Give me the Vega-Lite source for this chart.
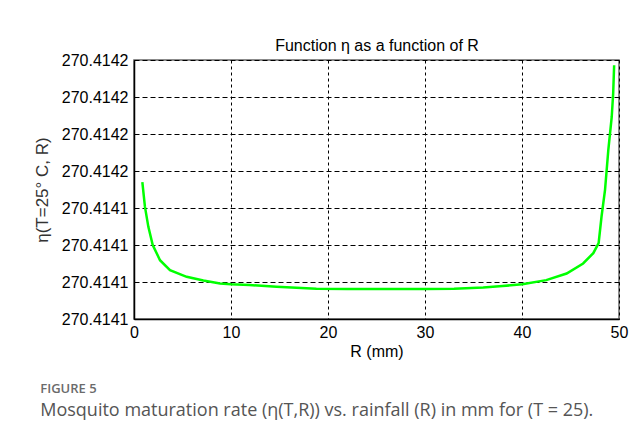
{
  "$schema": "https://vega.github.io/schema/vega-lite/v6.json",
  "width": 485,
  "height": 259,
  "autosize": {"type": "none"},
  "padding": {"left": 134, "top": 60, "right": 24, "bottom": 129},
  "background": "white",
  "title": {
    "text": "FIGURE 5",
    "subtitle": "Mosquito maturation rate (η(T,R)) vs. rainfall (R) in mm for (T = 25).",
    "orient": "bottom",
    "anchor": "start",
    "dx": 7,
    "offset": 24,
    "font": "Open Sans",
    "fontSize": 13,
    "fontWeight": 600,
    "color": "#6b6b6b",
    "subtitleFont": "Open Sans",
    "subtitleFontSize": 18,
    "subtitleColor": "#555555",
    "subtitlePadding": 6
  },
  "data": {
    "values": [
      {"R": 0.86, "eta": 270.414152},
      {"R": 1.13, "eta": 270.4141453},
      {"R": 1.48, "eta": 270.4141399},
      {"R": 1.93, "eta": 270.414135},
      {"R": 2.68, "eta": 270.4141309},
      {"R": 3.71, "eta": 270.4141282},
      {"R": 5.43, "eta": 270.4141264},
      {"R": 7.15, "eta": 270.4141254},
      {"R": 8.87, "eta": 270.4141246},
      {"R": 10.0, "eta": 270.4141244},
      {"R": 11.9, "eta": 270.4141242},
      {"R": 14.7, "eta": 270.4141237},
      {"R": 18.8, "eta": 270.4141232},
      {"R": 22.0, "eta": 270.4141231},
      {"R": 26.0, "eta": 270.4141231},
      {"R": 30.0, "eta": 270.4141231},
      {"R": 33.0, "eta": 270.4141232},
      {"R": 36.0, "eta": 270.4141235},
      {"R": 38.0, "eta": 270.4141239},
      {"R": 40.03, "eta": 270.4141244},
      {"R": 42.5, "eta": 270.4141255},
      {"R": 44.6, "eta": 270.4141273},
      {"R": 46.3, "eta": 270.41413},
      {"R": 47.35, "eta": 270.4141328},
      {"R": 47.9, "eta": 270.4141355},
      {"R": 48.2, "eta": 270.4141427},
      {"R": 48.56, "eta": 270.4141499},
      {"R": 48.9, "eta": 270.4141607},
      {"R": 49.25, "eta": 270.4141696},
      {"R": 49.4, "eta": 270.414176},
      {"R": 49.5, "eta": 270.4141836}
    ]
  },
  "layer": [
    {
      "mark": {"type": "line", "color": "#00ff00", "strokeWidth": 2.5},
      "encoding": {
        "x": {
          "field": "R",
          "type": "quantitative",
          "scale": {"domain": [0, 50], "nice": false, "zero": false},
          "axis": {
            "values": [0, 10, 20, 30, 40, 50],
            "title": "R (mm)",
            "titlePadding": 3,
            "labelPadding": 5,
            "ticks": false,
            "grid": true,
            "gridColor": "#000000",
            "gridDash": [3, 3],
            "gridOpacity": 1,
            "domainColor": "#000000",
            "labelFlush": false
          }
        },
        "y": {
          "field": "eta",
          "type": "quantitative",
          "scale": {"domain": [270.414115, 270.414185], "nice": false, "zero": false},
          "axis": {
            "values": [270.414115, 270.414125, 270.414135, 270.414145, 270.414155, 270.414165, 270.414175, 270.414185],
            "labelExpr": "datum.value < 270.41415 ? '270.4141' : '270.4142'",
            "title": "η(T=25° C, R)",
            "titleFontSize": 17,
            "titlePadding": 10,
            "titleColor": "#333333",
            "labelPadding": 6,
            "ticks": false,
            "grid": true,
            "gridColor": "#000000",
            "gridDash": [5, 3],
            "gridOpacity": 1,
            "domainColor": "#000000"
          }
        }
      }
    },
    {
      "mark": {"type": "line", "opacity": 0},
      "encoding": {
        "x": {
          "field": "R",
          "type": "quantitative",
          "scale": {"domain": [0, 50], "nice": false, "zero": false},
          "axis": {
            "orient": "top",
            "labels": false,
            "ticks": false,
            "domain": false,
            "grid": false,
            "title": "Function η as a function of R",
            "titlePadding": 7,
            "titleFontSize": 16,
            "titleColor": "#000000"
          }
        },
        "y": {"field": "eta", "type": "quantitative", "axis": null}
      }
    }
  ],
  "resolve": {"axis": {"x": "independent", "y": "independent"}},
  "config": {
    "view": {"stroke": "#666666", "strokeWidth": 1.5},
    "axis": {
      "labelFont": "Liberation Sans",
      "titleFont": "Liberation Sans",
      "labelFontSize": 16,
      "titleFontSize": 16,
      "titleFontWeight": "normal",
      "labelColor": "#000000",
      "titleColor": "#000000",
      "domainWidth": 1.5
    }
  }
}
